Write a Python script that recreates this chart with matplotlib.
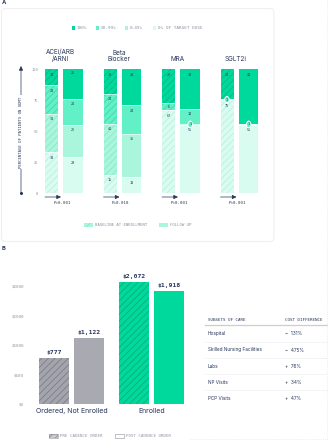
import matplotlib
matplotlib.use('Agg')
import matplotlib.pyplot as plt
from matplotlib.patches import FancyBboxPatch, Rectangle

# ---------------- data ----------------
categories = ['ACEi/ARB\n/ARNI', 'Beta\nBlocker', 'MRA', 'SGLT2i']
dose_levels = ['100%', '50-99%', '0-49%', '0% OF TARGET DOSE']
# baseline at enrollment, % of patients (top to bottom level)
baseline_100 = [13, 20, 27, 24]
baseline_50 = [23, 24, 6, 0]
baseline_1 = [31, 41, 0, 1]
baseline_0 = [33, 15, 67, 75]
# follow up
followup_100 = [25, 29, 32, 44]
followup_50 = [21, 23, 12, 0]
followup_1 = [26, 35, 1, 1]
followup_0 = [29, 13, 55, 55]
p_values = ['P<0.001', 'P=0.018', 'P<0.001', 'P<0.001']

cost_groups = ['Ordered, Not Enrolled', 'Enrolled']
pre_cost = [777, 2072]
post_cost = [1122, 1918]
cost_ticks = [0, 500, 1000, 1500, 2000]

subsets = ['Hospital', 'Skilled Nursing Facilities', 'Labs', 'NP Visits', 'PCP Visits']
cost_diff = ['\u2212  131%', '\u2212  475%', '+  76%', '+  34%', '+  47%']

# ---------------- style ----------------
W, H, DPI = 328, 440, 100
NAVY = '#27365a'
GREY = '#8d93a0'
C100, C50, C1, C0 = '#00d99c', '#62f0c6', '#a9f6dd', '#d9fcf1'
H100, H50, H1, H0 = '#00b886', '#45d6ac', '#8ce6c8', '#bdeedd'
SANS = ['Inter', 'DejaVu Sans']
MONO = ['DejaVu Sans Mono']
plt.rcParams['hatch.linewidth'] = 0.6

fig = plt.figure(figsize=(W / DPI, H / DPI), dpi=DPI)

# background overlay axes in pixel coordinates
bg = fig.add_axes([0, 0, 1, 1])
bg.set_xlim(0, W)
bg.set_ylim(H, 0)
bg.axis('off')


def axes_px(left, top, right, bottom):
    return fig.add_axes([left / W, 1 - bottom / H, (right - left) / W, (bottom - top) / H])


# panel frames
bg.add_patch(FancyBboxPatch((1.5, 8.5), 272.5, 233, boxstyle='round,pad=0,rounding_size=4',
                            fc='white', ec='#efefef', lw=0.8))
bg.plot([326.5, 326.5], [0, 440], color='#e6e6e6', lw=0.6, ls=':')
bg.plot([190, 328], [439, 439], color='#e6e6e6', lw=0.6, ls=':')
bg.text(2, 3, 'A', fontsize=4.2, fontweight='bold', color=NAVY, family=SANS, va='center')
bg.text(2, 248, 'B', fontsize=4.2, fontweight='bold', color=NAVY, family=SANS, va='center')

# ---------------- Panel A ----------------
axA = axes_px(40, 69.3, 275, 193.3)
axA.patch.set_alpha(0)
G0, GS = 62.0, 58.5  # group layout in px
axA.set_xlim((40 - G0) / GS, (275 - G0) / GS)
axA.set_ylim(0, 100)
for s in axA.spines.values():
    s.set_visible(False)
axA.set_xticks([])
axA.set_yticks([0, 25, 50, 75, 100])
axA.set_yticklabels(['0', '25', '50', '75', '100'], fontsize=2.7, color=GREY, family=MONO)
axA.tick_params(axis='y', length=0, pad=1.5)

xs = list(range(len(categories)))
off_b, w_b = -10.5 / GS, 13 / GS
off_f, w_f = 11.2 / GS, 19.5 / GS

base_layers = [baseline_0, baseline_1, baseline_50, baseline_100]
foll_layers = [followup_0, followup_1, followup_50, followup_100]
faces = [C0, C1, C50, C100]
hcols = [H0, H1, H50, H100]


def draw_stack(layers, offset, width, hatched):
    bottoms = [0] * len(xs)
    for layer, fc, hc in zip(layers, faces, hcols):
        pos = [x + offset for x in xs]
        if hatched:
            axA.bar(pos, layer, width, bottom=bottoms, color=fc, edgecolor=hc, lw=0,
                    hatch='/////')
        else:
            axA.bar(pos, layer, width, bottom=bottoms, color=fc, lw=0)
        for i, v in enumerate(layer):
            if v <= 0:
                continue
            top = bottoms[i] + v
            if v <= 2:
                axA.text(pos[i], top - v / 2, str(v), ha='center', va='center', fontsize=2.6,
                         color=NAVY, family=MONO,
                         bbox=dict(boxstyle='round,pad=0.35,rounding_size=0.9', fc=C50,
                                   ec='white', lw=0.6))
            else:
                ly = top - min(4.3, v / 2)
                axA.text(pos[i], ly, str(v), ha='center', va='center', fontsize=2.6,
                         color=NAVY, family=MONO)
        bottoms = [b + v for b, v in zip(bottoms, layer)]


draw_stack(base_layers, off_b, w_b, True)
draw_stack(foll_layers, off_f, w_f, False)

# separators between segments
for layers, off, w in [(base_layers, off_b, w_b), (foll_layers, off_f, w_f)]:
    for i in xs:
        acc = 0
        for layer in layers[:-1]:
            acc += layer[i]
            if 0 < acc < 100:
                axA.plot([i + off - w / 2, i + off + w / 2], [acc, acc], color='white', lw=0.4)

# group titles and p-values
for i, (cat, p) in enumerate(zip(categories, p_values)):
    cx = G0 + GS * i - 1.5
    bg.text(cx, 62, cat, ha='center', va='bottom', fontsize=4.6, color=NAVY, family=SANS,
            linespacing=1.05)
    x0 = G0 + GS * i - 17
    bg.annotate('', xy=(x0 + 16, 197), xytext=(x0, 197),
                arrowprops=dict(arrowstyle='-|>,head_length=0.25,head_width=0.12',
                                color=NAVY, lw=0.5, shrinkA=0, shrinkB=0))
    bg.text(G0 + GS * i, 203.3, p, ha='center', va='center', fontsize=3.0, color=NAVY,
            family=MONO)

# y label with arrow
bg.annotate('', xy=(21, 66), xytext=(21, 193.5),
            arrowprops=dict(arrowstyle='-|>,head_length=0.25,head_width=0.12', color=NAVY,
                            lw=0.5, shrinkA=0, shrinkB=0))
bg.plot([21], [193.3], marker='o', ms=1.2, color=NAVY)
bg.text(21, 132, 'PERCENTAGE OF PATIENTS ON GDMT', rotation=90, ha='center', va='center',
        fontsize=2.8, color=NAVY, family=MONO,
        bbox=dict(boxstyle='square,pad=0.3', fc='white', ec='none'))

# top legend
leg_x = [71.7, 95.7, 125.0, 152.7]
for lx, lab, fc in zip(leg_x, ['100%', '50-99%', '0-49%', '0% OF TARGET DOSE'], [C100, C50, C1, C0]):
    bg.add_patch(Rectangle((lx, 26.3), 3.4, 3.4, fc=fc, lw=0))
    bg.text(lx + 5.2, 28.1, lab, ha='left', va='center', fontsize=3.2, color=GREY, family=MONO)

# bottom legend A
bg.add_patch(Rectangle((84, 223.3), 8.5, 3.6, fc=C1, ec=H1, lw=0, hatch='/////'))
bg.text(95, 225.1, 'BASELINE AT ENROLLMENT', ha='left', va='center', fontsize=2.9, color=GREY,
        family=MONO)
bg.add_patch(Rectangle((159, 223.3), 8.5, 3.6, fc=C1, lw=0))
bg.text(170, 225.1, 'FOLLOW UP', ha='left', va='center', fontsize=2.9, color=GREY, family=MONO)

# ---------------- Panel B ----------------
axB = axes_px(27, 262, 195, 404)
axB.patch.set_alpha(0)
B0, BS = 71.5, 80.0
axB.set_xlim((27 - B0) / BS, (195 - B0) / BS)
axB.set_ylim(0, (404 - 262) / 118 * 2000)
for s in axB.spines.values():
    s.set_visible(False)
axB.set_yticks(cost_ticks)
axB.set_yticklabels(['$%d' % t for t in cost_ticks], fontsize=3.1, color=GREY, family=MONO)
axB.tick_params(axis='y', length=0, pad=2.2)
gx = list(range(len(cost_groups)))
axB.set_xticks(gx)
axB.set_xticklabels(cost_groups, fontsize=5.0, color=NAVY, family=SANS)
axB.tick_params(axis='x', length=0, pad=3.2)

bw = 30 / BS
po = 17.4 / BS
pre_faces = ['#a4a4ac', C100]
pre_hatch = ['#7d7d88', '#07ad7c']
post_faces = ['#a9a9b1', C100]
for i in gx:
    axB.bar(i - po, pre_cost[i], bw, color=pre_faces[i], edgecolor=pre_hatch[i], lw=0,
            hatch='/////')
    axB.bar(i + po, post_cost[i], bw, color=post_faces[i], lw=0)
    axB.annotate('${:,}'.format(pre_cost[i]), (i - po, pre_cost[i]), xytext=(0, 2.2),
                 textcoords='offset points', ha='center', va='bottom', fontsize=4.6,
                 fontweight='bold', color=NAVY, family=MONO)
    axB.annotate('${:,}'.format(post_cost[i]), (i + po, post_cost[i]), xytext=(0, 2.2),
                 textcoords='offset points', ha='center', va='bottom', fontsize=4.6,
                 fontweight='bold', color=NAVY, family=MONO)

# bottom legend B
bg.add_patch(Rectangle((49, 434), 8.5, 3.6, fc='#c8c8cf', ec='#8d8d96', lw=0, hatch='/////'))
bg.add_patch(Rectangle((49, 434), 8.5, 3.6, fc='none', ec='#8d8d96', lw=0.4))
bg.text(60, 435.8, 'PRE CADENCE ORDER', ha='left', va='center', fontsize=3.0, color=GREY,
        family=MONO)
bg.add_patch(Rectangle((115, 434), 8.5, 3.6, fc='white', ec='#8d8d96', lw=0.4))
bg.text(126, 435.8, 'POST CADENCE ORDER', ha='left', va='center', fontsize=3.0, color=GREY,
        family=MONO)

# table
bg.text(208, 319.7, 'SUBSETS OF CARE', ha='left', va='center', fontsize=3.1, color=NAVY,
        family=MONO)
bg.text(285, 319.7, 'COST DIFFERENCE', ha='left', va='center', fontsize=3.1, color=NAVY,
        family=MONO)
bg.plot([205, 327], [325.3, 325.3], color='#c9cdd5', lw=0.9)
row_y = [333.7, 350.0, 366.3, 382.3, 398.3]
for k, (name, val) in enumerate(zip(subsets, cost_diff)):
    bg.text(208, row_y[k], name, ha='left', va='center', fontsize=3.4, color=NAVY, family=SANS)
    bg.text(285, row_y[k], val, ha='left', va='center', fontsize=3.4, color=NAVY, family=SANS)
    if k < len(subsets) - 1:
        yy = (row_y[k] + row_y[k + 1]) / 2
        bg.plot([205, 327], [yy, yy], color='#dfe2e8', lw=0.5, ls=(0, (1, 1)))

fig.savefig('out.png', dpi=DPI, facecolor='white')
